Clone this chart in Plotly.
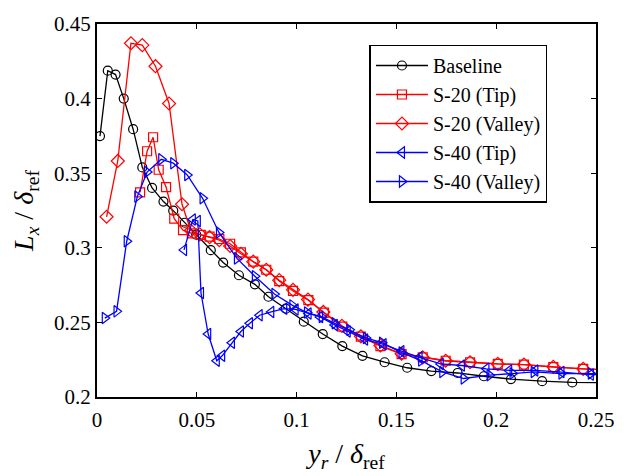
import plotly.graph_objects as go

# ---------------- data ----------------
base_x = [0.0015, 0.0054, 0.0093, 0.0134, 0.0181, 0.0227, 0.0276, 0.0333, 0.0382, 0.0440,
          0.0497, 0.0570, 0.0632, 0.0711, 0.0791, 0.0859, 0.0946, 0.1036, 0.1131, 0.1229,
          0.1330, 0.1441, 0.1554, 0.1675, 0.1807, 0.1938, 0.2074, 0.2230, 0.2381, 0.2600]
base_y = [0.3749, 0.4187, 0.4161, 0.4000, 0.3795, 0.3539, 0.3401, 0.3310, 0.3249, 0.3168,
          0.3088, 0.2984, 0.2901, 0.2816, 0.2755, 0.2672, 0.2592, 0.2505, 0.2422, 0.2341,
          0.2276, 0.2233, 0.2196, 0.2174, 0.2161, 0.2139, 0.2120, 0.2106, 0.2098, 0.2095]

s20tip_x = [0.0216, 0.0251, 0.0281, 0.0309, 0.0346, 0.0387, 0.0431, 0.0475, 0.0520, 0.0564,
            0.0613, 0.0667, 0.0721, 0.0783, 0.0848, 0.0913, 0.0982, 0.1059, 0.1137, 0.1229,
            0.1322, 0.1420, 0.1526, 0.1632, 0.1747, 0.1869, 0.2008, 0.2139, 0.2286, 0.2436, 0.2600]
s20tip_y = [0.3371, 0.3647, 0.3741, 0.3523, 0.3407, 0.3195, 0.3118, 0.3097, 0.3087, 0.3075,
            0.3059, 0.3027, 0.2969, 0.2907, 0.2853, 0.2777, 0.2711, 0.2649, 0.2565, 0.2472,
            0.2405, 0.2341, 0.2287, 0.2266, 0.2243, 0.2233, 0.2222, 0.2217, 0.2200, 0.2189, 0.2180]

s20val_x = [0.0048, 0.0104, 0.0170, 0.0227, 0.0293, 0.0361, 0.0426, 0.0470, 0.0515, 0.0564,
            0.0613, 0.0667, 0.0721, 0.0783, 0.0848, 0.0913, 0.0982, 0.1057, 0.1134, 0.1227,
            0.1322, 0.1420, 0.1526, 0.1632, 0.1747, 0.1869, 0.2008, 0.2139, 0.2286, 0.2436, 0.2600]
s20val_y = [0.3208, 0.3582, 0.4371, 0.4358, 0.4217, 0.3967, 0.3292, 0.3116, 0.3090, 0.3071,
            0.3051, 0.3012, 0.2960, 0.2907, 0.2853, 0.2783, 0.2718, 0.2653, 0.2570, 0.2477,
            0.2407, 0.2346, 0.2290, 0.2266, 0.2243, 0.2233, 0.2222, 0.2217, 0.2202, 0.2189, 0.2180]

s40tip_x = [0.0436, 0.0480, 0.0505, 0.0521, 0.0557, 0.0600, 0.0627, 0.0676, 0.0721, 0.0766,
            0.0815, 0.0873, 0.0938, 0.0995, 0.1060, 0.1118, 0.1191, 0.1256, 0.1343, 0.1436,
            0.1525, 0.1616, 0.1722, 0.1828, 0.1951, 0.2065, 0.2196, 0.2327, 0.2474, 0.2600]
s40tip_y = [0.2986, 0.3190, 0.3180, 0.2697, 0.2422, 0.2243, 0.2276, 0.2364, 0.2439, 0.2494,
            0.2548, 0.2570, 0.2592, 0.2587, 0.2560, 0.2537, 0.2483, 0.2439, 0.2385, 0.2353,
            0.2307, 0.2266, 0.2222, 0.2211, 0.2189, 0.2178, 0.2178, 0.2167, 0.2150, 0.2148]

s40val_x = [0.0039, 0.0098, 0.0149, 0.0202, 0.0251, 0.0322, 0.0382, 0.0452, 0.0529, 0.0611,
            0.0701, 0.0791, 0.0889, 0.0979, 0.1052, 0.1126, 0.1191, 0.1265, 0.1347, 0.1428,
            0.1526, 0.1624, 0.1730, 0.1837, 0.1967, 0.2082, 0.2188, 0.2327, 0.2474, 0.2600]
s40val_y = [0.2529, 0.2574, 0.3044, 0.3343, 0.3508, 0.3593, 0.3567, 0.3488, 0.3332, 0.3103,
            0.2929, 0.2809, 0.2690, 0.2614, 0.2566, 0.2537, 0.2494, 0.2450, 0.2396, 0.2364,
            0.2298, 0.2244, 0.2168, 0.2124, 0.2146, 0.2157, 0.2168, 0.2157, 0.2157, 0.2157]

x_ticks = [0, 0.05, 0.1, 0.15, 0.2, 0.25]
x_tick_labels = ["0", "0.05", "0.1", "0.15", "0.2", "0.25"]
y_ticks = [0.2, 0.25, 0.3, 0.35, 0.4, 0.45]
y_tick_labels = ["0.2", "0.25", "0.3", "0.35", "0.4", "0.45"]

series = [
    ("Baseline", base_x, base_y, "black", "circle-open", 9),
    ("S-20 (Tip)", s20tip_x, s20tip_y, "#ff0000", "square-open", 9),
    ("S-20 (Valley)", s20val_x, s20val_y, "#ff0000", "diamond-open", 10),
    ("S-40 (Tip)", s40tip_x, s40tip_y, "#0000ff", "triangle-left-open", 10),
    ("S-40 (Valley)", s40val_x, s40val_y, "#0000ff", "triangle-right-open", 10),
]

FONT = "Liberation Serif"

fig = go.Figure()
for i, (name, xs, ys, col, sym, sz) in enumerate(series):
    fig.add_trace(go.Scatter(
        x=xs, y=ys, name=name, mode="lines+markers", legendgroup=f"g{i}",
        line=dict(color=col, width=1.3),
        marker=dict(symbol=sym, size=sz, color=col, line=dict(width=1.2, color=col)),
        cliponaxis=True,
    ))

fig.update_layout(
    width=626, height=476,
    margin=dict(l=97, r=19, t=21, b=72),
    paper_bgcolor="white", plot_bgcolor="white",
    font=dict(family=FONT, size=21, color="black"),
    showlegend=True,
    legend=dict(
        x=0.546, y=0.945, xanchor="left", yanchor="top",
        bgcolor="white", bordercolor="black", borderwidth=1.5,
        font=dict(family=FONT, size=20, color="black"),
        tracegroupgap=0, traceorder="normal", itemwidth=52,
        entrywidth=125, entrywidthmode="pixels",
    ),
)

fig.update_xaxes(
    range=[0, 0.25], tickvals=x_ticks, ticktext=x_tick_labels,
    ticks="inside", ticklen=5, tickwidth=1, tickcolor="black",
    showline=True, linecolor="black", linewidth=2, mirror="ticks",
    showgrid=False, zeroline=False, ticklabeloverflow="allow",
    ticklabelstandoff=3,
    tickfont=dict(family=FONT, size=21),
    title=dict(text="<i>y</i><sub><i>r</i></sub> / <i>δ</i><sub>ref</sub>",
               font=dict(family=FONT, size=28), standoff=12),
)
fig.update_yaxes(
    range=[0.2, 0.45], tickvals=y_ticks, ticktext=y_tick_labels,
    ticks="inside", ticklen=5, tickwidth=1, tickcolor="black",
    showline=True, linecolor="black", linewidth=2, mirror="ticks",
    showgrid=False, zeroline=False, ticklabeloverflow="allow",
    tickfont=dict(family=FONT, size=21),
    title=dict(text="<i>L</i><sub><i>x</i></sub> / <i>δ</i><sub>ref</sub>",
               font=dict(family=FONT, size=28), standoff=12),
)

fig.write_html("out.html")
